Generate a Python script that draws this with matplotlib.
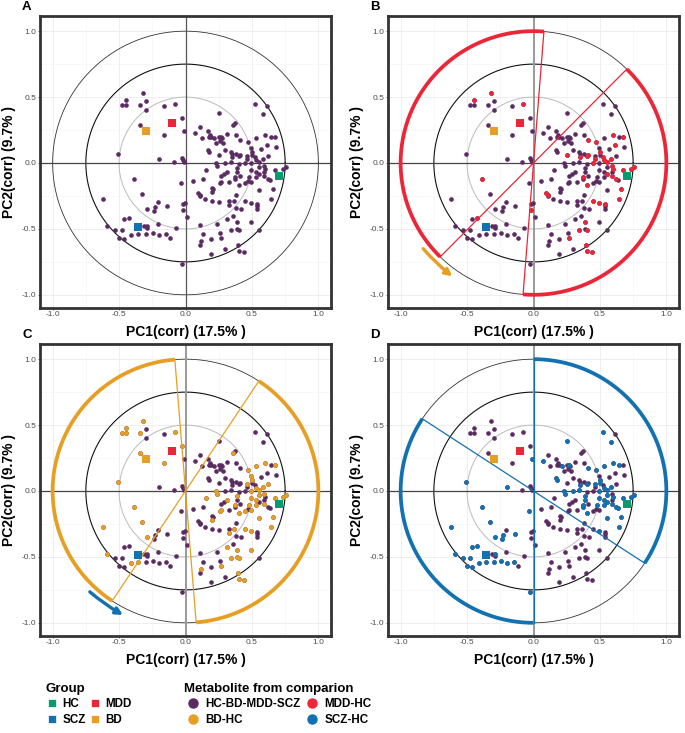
import numpy as np
import matplotlib
matplotlib.use('Agg')
import matplotlib.pyplot as plt
from matplotlib.lines import Line2D

plt.rcParams['font.family'] = ['Liberation Sans', 'DejaVu Sans']

# metabolite loadings (PC1, PC2)
pc1 = [-0.32, -0.45, -0.48, -0.45, -0.345, -0.30, -0.30, -0.165, -0.08, -0.34,
       -0.16, -0.03, -0.015, -0.51, -0.20, -0.085, -0.03, -0.02, -0.01,
       0.52, 0.61, 0.58, 0.255, 0.37, 0.355, 0.11, 0.075, 0.125, 0.17,
       0.18, 0.185, 0.19, 0.215, 0.25, 0.27, 0.275, 0.26, 0.23, 0.28,
       0.31, 0.38, 0.41, 0.47, 0.53, 0.60, 0.645, 0.67, 0.495, 0.50,
       0.61, 0.68, 0.57, 0.17, 0.18, 0.25, 0.30, 0.34, 0.35, 0.35,
       0.38, 0.40, 0.41, 0.46, 0.46, 0.50, 0.52, 0.53, 0.55, 0.58,
       0.62, 0.23, 0.24, 0.295, 0.345, 0.40, 0.45, 0.49,
       0.76, 0.73, 0.67, 0.59, 0.595, 0.59, 0.59, 0.55, 0.53, 0.555,
       0.53, 0.49, 0.48, 0.47, 0.45, 0.49, 0.39, 0.385, 0.41, 0.37,
       0.37, 0.31, 0.29, 0.27, 0.155, 0.06, 0.13, 0.26, 0.27, 0.33,
       0.40, 0.21, 0.20, 0.20, 0.62, 0.635, 0.66, 0.55, 0.38, 0.11,
       0.095, 0.11, 0.15, 0.20, 0.255, 0.33, 0.33, 0.365, 0.445, 0.49,
       0.54, 0.54, 0.535, 0.645, 0.42, 0.38, 0.355, 0.31, 0.24, 0.11,
       0.39, 0.49, 0.34, 0.39, 0.40, 0.26, 0.55, 0.13, 0.115, 0.11,
       0.19, 0.27, 0.30, 0.395, 0.40, 0.44, 0.19, -0.025, -0.035,
       -0.39, -0.33, -0.62, -0.21, -0.29, -0.23, -0.24, -0.14, -0.02, -0.005,
       -0.02, 0.01, -0.07, -0.46, -0.425, -0.31, -0.29, -0.59, -0.53, -0.48,
       -0.29, -0.21, -0.50, -0.46, -0.41, -0.36, -0.295, -0.245, -0.20, -0.15,
       -0.12]
pc2 = [0.53, 0.48, 0.44, 0.44, 0.44, 0.47, 0.40, 0.43, 0.45, 0.29,
       0.21, 0.345, 0.245, 0.065, 0.03, 0.01, 0.035, 0.025, 0.01,
       0.45, 0.43, 0.37, 0.38, 0.30, 0.29, 0.275, 0.225, 0.19, 0.24,
       0.20, 0.215, 0.195, 0.19, 0.20, 0.20, 0.19, 0.17, 0.155, 0.155,
       0.22, 0.215, 0.175, 0.16, 0.19, 0.21, 0.195, 0.195, 0.11, 0.08,
       0.135, 0.125, 0.105, 0.10, 0.085, 0.06, 0.095, 0.085, 0.07, 0.045,
       0.065, 0.05, 0.06, 0.055, 0.03, 0.06, 0.045, 0.025, 0.005, 0.03,
       0.05, 0.0, -0.025, 0.0, 0.005, -0.01, 0.0, 0.0,
       -0.03, -0.045, -0.05, -0.02, -0.045, -0.07, -0.095, -0.03, -0.065, -0.08,
       -0.11, -0.055, -0.11, -0.135, -0.155, -0.145, -0.04, -0.065, -0.095, -0.105,
       -0.125, -0.065, -0.085, -0.095, -0.055, -0.14, -0.12, -0.155, -0.145, -0.145,
       -0.17, -0.195, -0.19, -0.22, -0.12, -0.13, -0.195, -0.205, -0.24, -0.24,
       -0.225, -0.25, -0.27, -0.29, -0.295, -0.29, -0.32, -0.29, -0.29, -0.30,
       -0.31, -0.33, -0.35, -0.27, -0.35, -0.345, -0.40, -0.425, -0.465, -0.47,
       -0.45, -0.45, -0.51, -0.50, -0.505, -0.53, -0.51, -0.54, -0.59, -0.62,
       -0.575, -0.57, -0.65, -0.62, -0.665, -0.675, -0.69, -0.765, -0.15,
       -0.125, -0.235, -0.27, -0.295, -0.35, -0.335, -0.365, -0.33, -0.31, -0.30,
       -0.355, -0.41, -0.49, -0.425, -0.415, -0.475, -0.475, -0.475, -0.51, -0.505,
       -0.495, -0.465, -0.57, -0.575, -0.545, -0.54, -0.54, -0.53, -0.545, -0.535,
       -0.57]

mdd_hc_x = [-0.32, -0.44, -0.08, -0.39, -0.42, -0.02, 0.095, 0.11, 0.25, 0.37,
            0.41, 0.44, 0.41, 0.415, 0.37, 0.45, 0.43, 0.50, 0.53, 0.525,
            0.51, 0.545, 0.56, 0.54, 0.60, 0.60, 0.68, 0.60, 0.59, 0.59,
            0.57, 0.60, 0.62, 0.63, 0.66, 0.73, 0.77, 0.66, 0.65, 0.54,
            0.47, 0.45, 0.385, 0.38, 0.40, 0.41, 0.40, 0.40, 0.44, 0.285, 0.34]
mdd_hc_y = [0.53, 0.48, 0.45, -0.125, -0.41, -0.35, -0.24, -0.23, 0.06, 0.175,
            0.175, 0.16, 0.055, 0.045, 0.04, 0.03, -0.02, 0.07, 0.04, 0.03,
            0.02, 0.02, 0.02, -0.01, 0.21, 0.17, 0.165, 0.04, 0.0, -0.05,
            -0.075, -0.09, -0.05, -0.10, -0.05, -0.04, -0.02, -0.18, -0.27, -0.29,
            -0.29, -0.29, -0.095, -0.19, -0.44, -0.49, -0.61, -0.66, -0.67, -0.56, -0.51]

bd_hc_x = [-0.32, -0.445, -0.475, -0.45, -0.345, -0.08, -0.34, -0.16, -0.03, -0.51,
           -0.39, -0.335, -0.62, -0.60, -0.29, -0.42, -0.36,
           0.355, 0.49, 0.525, 0.60, 0.68, 0.505, 0.51, 0.455, 0.49, 0.525,
           0.56, 0.59, 0.635, 0.55, 0.525, 0.52, 0.555, 0.58, 0.545, 0.58,
           0.60, 0.67, 0.72, 0.765, 0.225, 0.24, 0.21, 0.16, 0.30, 0.38,
           0.375, 0.47, 0.455, 0.50, 0.505, 0.48, 0.46, 0.445, 0.56, 0.57,
           0.55, 0.655, 0.26, 0.30, 0.37, 0.23, 0.21, 0.20, 0.505, 0.58,
           0.65, 0.44, 0.38, 0.37, 0.35, 0.31, 0.39, 0.49, 0.385, 0.41,
           0.335, 0.285, 0.13, 0.40, 0.40, 0.44]
bd_hc_y = [0.53, 0.485, 0.44, 0.445, 0.44, 0.45, 0.29, 0.21, 0.345, 0.065,
           -0.12, -0.235, -0.265, -0.47, -0.41, -0.54, -0.535,
           0.295, 0.155, 0.19, 0.175, 0.165, 0.10, 0.08, 0.045, 0.025, 0.03,
           0.025, 0.03, 0.02, 0.0, -0.02, -0.035, -0.02, -0.035, -0.055, -0.085,
           -0.085, -0.045, -0.04, -0.03, -0.005, -0.04, -0.035, -0.05, -0.06, -0.05,
           -0.10, -0.075, -0.105, -0.09, -0.11, -0.15, -0.16, -0.165, -0.125, -0.15,
           -0.19, -0.19, -0.17, -0.18, -0.18, -0.165, -0.22, -0.23, -0.245, -0.24,
           -0.265, -0.29, -0.275, -0.305, -0.34, -0.40, -0.445, -0.45, -0.485, -0.50,
           -0.51, -0.56, -0.58, -0.61, -0.655, -0.67]

scz_hc_x = [0.52, 0.58, 0.26, -0.01, 0.08, 0.22, 0.28, 0.40, 0.43, 0.47,
            0.53, 0.595, 0.65, 0.165, 0.20, 0.29, 0.33, 0.37, 0.40, 0.415,
            0.46, 0.49, 0.50, 0.53, 0.56, 0.58, 0.51, 0.54, 0.57, 0.595,
            0.62, 0.665, 0.72, 0.76, 0.54, 0.48, 0.36, 0.23, 0.21, 0.27,
            0.36, 0.395, 0.43, 0.46, 0.48, 0.39, 0.38, 0.42, 0.535, 0.56,
            0.57, 0.60, 0.65, 0.64, 0.61, 0.55, 0.50, 0.58, 0.66, -0.03,
            -0.51, -0.20, -0.39, -0.33, -0.62, -0.29, -0.235, -0.245, -0.14, -0.46,
            -0.42, -0.59, -0.53, -0.485, -0.50, -0.46, -0.42, -0.36, -0.29, -0.29,
            -0.25, -0.205, -0.16, -0.03]
scz_hc_y = [0.45, 0.375, 0.38, 0.25, 0.23, 0.20, 0.20, 0.165, 0.16, 0.165,
            0.185, 0.21, 0.17, 0.11, 0.095, 0.02, 0.045, 0.04, 0.05, 0.03,
            0.05, 0.085, 0.045, 0.03, 0.02, 0.025, -0.015, -0.025, -0.045, -0.05,
            -0.035, -0.05, -0.045, -0.03, -0.055, -0.035, -0.01, -0.005, -0.04, -0.04,
            -0.055, -0.035, -0.05, -0.095, -0.11, -0.11, -0.14, -0.155, -0.11, -0.065,
            -0.14, -0.12, -0.12, -0.185, -0.19, -0.20, -0.255, -0.25, -0.265, -0.155,
            0.06, 0.03, -0.125, -0.24, -0.27, -0.35, -0.34, -0.365, -0.33, -0.42,
            -0.415, -0.47, -0.51, -0.505, -0.57, -0.58, -0.55, -0.545, -0.48, -0.545,
            -0.535, -0.55, -0.54, -0.77]

# group scores
groups = ['HC', 'MDD', 'SCZ', 'BD']
group_x = [0.70, -0.105, -0.36, -0.295]
group_y = [-0.095, 0.305, -0.485, 0.245]

purple = '#5B2C62'
red = '#EC2537'
orange = '#E69F24'
blue = '#1171B1'
green = '#079B72'
group_colors = {'HC': green, 'MDD': red, 'SCZ': blue, 'BD': orange}

pc1 = np.array(pc1)
pc2 = np.array(pc2)


def nearest(xs, ys):
    # colour the loading closest to each point
    idx = set()
    for x, y in zip(xs, ys):
        idx.add(int(np.argmin((pc1 - x) ** 2 + (pc2 - y) ** 2)))
    return sorted(idx)


def draw_wedge(ax, a_lo, a_hi, color):
    for a in (a_lo, a_hi):
        t = np.deg2rad(a)
        ax.plot([np.cos(t), -np.cos(t)], [np.sin(t), -np.sin(t)], color=color, lw=0.9, zorder=4)
    span = a_lo + 180 - a_hi
    for start in (a_hi, a_hi + 180):
        t = np.deg2rad(np.linspace(start, start + span, 300))
        ax.plot(np.cos(t), np.sin(t), color=color, lw=2.7, solid_capstyle='butt', zorder=5)


def draw_panel(ax, letter, hi=None, wedge=None, arrow=None):
    ax.set_xlim(-1.095, 1.095)
    ax.set_ylim(-1.1, 1.115)
    ax.set_xticks([-1, -0.5, 0, 0.5, 1])
    ax.set_yticks([-1, -0.5, 0, 0.5, 1])
    ax.set_xticklabels(['-1.0', '-0.5', '0.0', '0.5', '1.0'])
    ax.set_yticklabels(['-1.0', '-0.5', '0.0', '0.5', '1.0'])
    ax.set_xticks([-0.75, -0.25, 0.25, 0.75], minor=True)
    ax.set_yticks([-0.75, -0.25, 0.25, 0.75], minor=True)
    ax.grid(which='major', color='#EBEBEB', lw=0.6, zorder=0)
    ax.grid(which='minor', color='#F3F3F3', lw=0.4, zorder=0)
    ax.tick_params(which='major', labelsize=6, labelcolor='#4D4D4D', length=1.5,
                   width=0.5, color='#333333', pad=1)
    ax.tick_params(which='minor', length=0)
    ax.set_axisbelow(True)

    t = np.linspace(0, 2 * np.pi, 400)
    ax.plot(np.cos(t), np.sin(t), color='#333333', lw=0.6, zorder=1)
    ax.plot(0.75 * np.cos(t), 0.75 * np.sin(t), color='#111111', lw=0.8, zorder=1)
    ax.plot(0.5 * np.cos(t), 0.5 * np.sin(t), color='#BBBBBB', lw=0.7, zorder=1)
    ax.axhline(0, color='#444444', lw=0.9, zorder=1)
    ax.axvline(0, color='#555555' if hi is None else '#999999',
               lw=0.9 if hi is None else 1.4, zorder=1)

    ax.scatter(pc1, pc2, s=11, color=purple, linewidths=0, zorder=3)
    if hi is not None:
        idx, col = hi
        ax.scatter(pc1[idx], pc2[idx], s=11, color=col, linewidths=0, zorder=3.5)
    if wedge is not None:
        draw_wedge(ax, *wedge)

    for g, x, y in zip(groups, group_x, group_y):
        ax.scatter([x], [y], s=32, marker='s', color=group_colors[g], linewidths=0, zorder=6)

    if arrow is not None:
        (x0, y0), (x1, y1), col = arrow
        ax.annotate('', xy=(x1, y1), xytext=(x0, y0),
                    arrowprops=dict(arrowstyle='-|>', color=col, lw=2.4, mutation_scale=10,
                                    shrinkA=0, shrinkB=0, connectionstyle='arc3,rad=0.05'),
                    zorder=7)

    for s in ax.spines.values():
        s.set_linewidth(2.0)
        s.set_color('#333333')
    ax.set_xlabel('PC1(corr) (17.5% )', fontsize=10, fontweight='bold', labelpad=5)
    ax.set_ylabel('PC2(corr) (9.7% )', fontsize=10, fontweight='bold', labelpad=4)
    ax.text(-0.045, 1.01, letter, transform=ax.transAxes, fontsize=9.5,
            fontweight='bold', ha='center', va='bottom')


fig = plt.figure(figsize=(6.85, 7.33), dpi=100)
W, H = 685, 733
axA = fig.add_axes([40 / W, 1 - 308 / H, 291 / W, 292 / H])
axB = fig.add_axes([388 / W, 1 - 308 / H, 291 / W, 292 / H])
axC = fig.add_axes([40 / W, 1 - 636 / H, 291 / W, 292 / H])
axD = fig.add_axes([388 / W, 1 - 636 / H, 291 / W, 292 / H])

draw_panel(axA, 'A')
draw_panel(axB, 'B', hi=(nearest(mdd_hc_x, mdd_hc_y), red), wedge=(45.4, 85.5, red),
           arrow=((-0.83, -0.65), (-0.61, -0.86), orange))
draw_panel(axC, 'C', hi=(nearest(bd_hc_x, bd_hc_y), orange), wedge=(56.5, 94.6, orange),
           arrow=((-0.72, -0.765), (-0.47, -0.94), blue))
draw_panel(axD, 'D', hi=(nearest(scz_hc_x, scz_hc_y), blue), wedge=(90.0, 146.8, blue))

grp_handles = [Line2D([], [], ls='', marker='s', ms=5.8, mec='white', mew=0.5,
                      color=group_colors[g]) for g in ['HC', 'SCZ', 'MDD', 'BD']]
leg1 = fig.legend(grp_handles, ['HC', 'SCZ', 'MDD', 'BD'], loc='upper left',
                  bbox_to_anchor=(40 / W, 1 - 677 / H), ncol=2, frameon=False,
                  title='Group', alignment='left', borderpad=0, handlelength=1.0,
                  handletextpad=0.4, columnspacing=0.3, labelspacing=0.3,
                  prop={'weight': 'bold', 'size': 8.4},
                  title_fontproperties={'weight': 'bold', 'size': 9.5})

met_labels = ['HC-BD-MDD-SCZ', 'BD-HC', 'MDD-HC', 'SCZ-HC']
met_colors = [purple, orange, red, blue]
met_handles = [Line2D([], [], ls='', marker='o', ms=6.5, color=c) for c in met_colors]
leg2 = fig.legend(met_handles, met_labels, loc='upper left',
                  bbox_to_anchor=(178 / W, 1 - 677 / H), ncol=2, frameon=False,
                  title='Metabolite from comparion', alignment='left', borderpad=0,
                  handlelength=1.6, handletextpad=0.25, columnspacing=0.2,
                  labelspacing=0.3, prop={'weight': 'bold', 'size': 8.4},
                  title_fontproperties={'weight': 'bold', 'size': 9.5})

fig.savefig('out.png', dpi=100)
